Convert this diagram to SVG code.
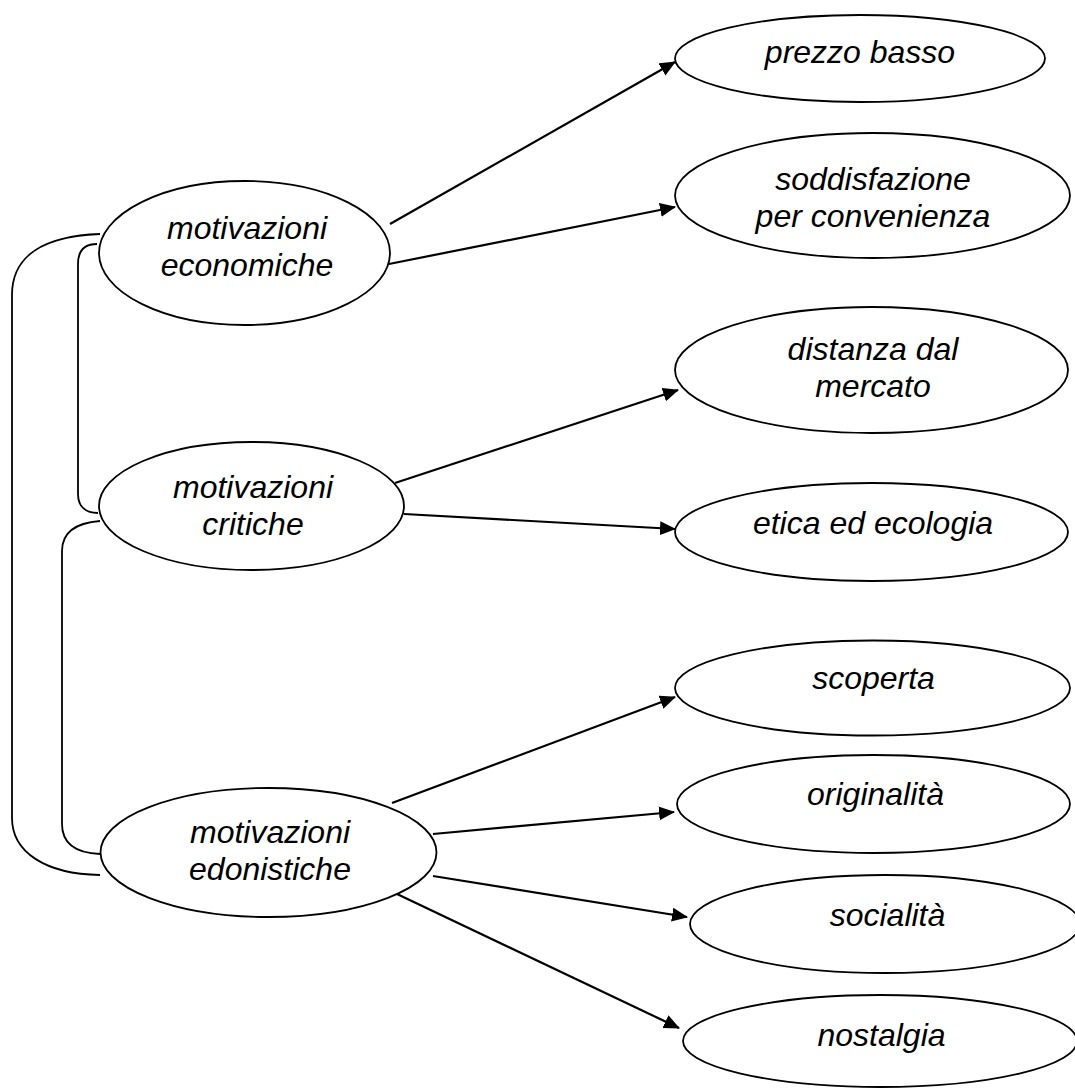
<svg xmlns="http://www.w3.org/2000/svg" width="1075" height="1088" viewBox="0 0 1075 1088">
<style>
.n{fill:#fff;stroke:#000;stroke-width:1.8}
.t{font-family:"Liberation Sans",Arial,sans-serif;font-style:italic;font-size:32px;fill:#000;text-anchor:middle}
.c{fill:none;stroke:#000;stroke-width:2.2}
.b{fill:none;stroke:#000;stroke-width:1.8}
</style>
<defs>
<marker id="ah" markerUnits="userSpaceOnUse" markerWidth="18" markerHeight="16" refX="15" refY="7" orient="auto">
<path d="M0,0 L16,7 L0,14 Z" fill="#000"/>
</marker>
</defs>
<rect width="1075" height="1088" fill="#fff"/>
<g id="connectors">
<line class="c" x1="390" y1="224" x2="675" y2="62" marker-end="url(#ah)"/>
<line class="c" x1="389" y1="264" x2="675" y2="207" marker-end="url(#ah)"/>
<line class="c" x1="395" y1="483" x2="678" y2="390" marker-end="url(#ah)"/>
<line class="c" x1="404" y1="514" x2="675" y2="529" marker-end="url(#ah)"/>
<line class="c" x1="392" y1="803" x2="675" y2="697" marker-end="url(#ah)"/>
<line class="c" x1="433" y1="834" x2="674" y2="812" marker-end="url(#ah)"/>
<line class="c" x1="433" y1="876" x2="687" y2="917" marker-end="url(#ah)"/>
<line class="c" x1="397" y1="894" x2="679" y2="1028" marker-end="url(#ah)"/>
<path class="b" d="M100,234 C45,236 12,255 12,295 L12,818 C12,852 45,874 100,875"/>
<path class="b" d="M97,244 C85,244 78,250 78,264 L78,494 C78,507 86,513 98,513"/>
<path class="b" d="M100,521 C74,523 62,533 62,551 L62,824 C62,843 75,853 100,854"/>
</g>
<g id="n-economiche">
<ellipse class="n" cx="244.5" cy="253" rx="145.5" ry="72"/>
<text class="t" x="247" y="239">motivazioni</text>
<text class="t" x="247" y="276">economiche</text>
</g>
<g id="n-critiche">
<ellipse class="n" cx="251.5" cy="506" rx="152.5" ry="64"/>
<text class="t" x="253" y="498">motivazioni</text>
<text class="t" x="253" y="535">critiche</text>
</g>
<g id="n-edonistiche">
<ellipse class="n" cx="268.5" cy="852.5" rx="168" ry="64.5"/>
<text class="t" x="270" y="843">motivazioni</text>
<text class="t" x="270" y="880">edonistiche</text>
</g>
<g id="n-prezzo">
<ellipse class="n" cx="860" cy="58.5" rx="185" ry="43.5"/>
<text class="t" x="860" y="63">prezzo basso</text>
</g>
<g id="n-soddisfazione">
<ellipse class="n" cx="872.5" cy="195.5" rx="197.5" ry="62.5"/>
<text class="t" x="873" y="190">soddisfazione</text>
<text class="t" x="873" y="227">per convenienza</text>
</g>
<g id="n-distanza">
<ellipse class="n" cx="871.5" cy="370" rx="196.5" ry="63"/>
<text class="t" x="873" y="360">distanza dal</text>
<text class="t" x="873" y="397">mercato</text>
</g>
<g id="n-etica">
<ellipse class="n" cx="871.5" cy="532" rx="196.5" ry="49"/>
<text class="t" x="873" y="534">etica ed ecologia</text>
</g>
<g id="n-scoperta">
<ellipse class="n" cx="872.5" cy="688" rx="197.5" ry="47.5"/>
<text class="t" x="873.5" y="689">scoperta</text>
</g>
<g id="n-originalita">
<ellipse class="n" cx="873.5" cy="804" rx="196.5" ry="49"/>
<text class="t" x="875.5" y="805">originalità</text>
</g>
<g id="n-socialita">
<ellipse class="n" cx="885" cy="924" rx="195" ry="49"/>
<text class="t" x="887.5" y="926">socialità</text>
</g>
<g id="n-nostalgia">
<ellipse class="n" cx="880" cy="1041" rx="197" ry="46"/>
<text class="t" x="881.5" y="1046">nostalgia</text>
</g>
</svg>
